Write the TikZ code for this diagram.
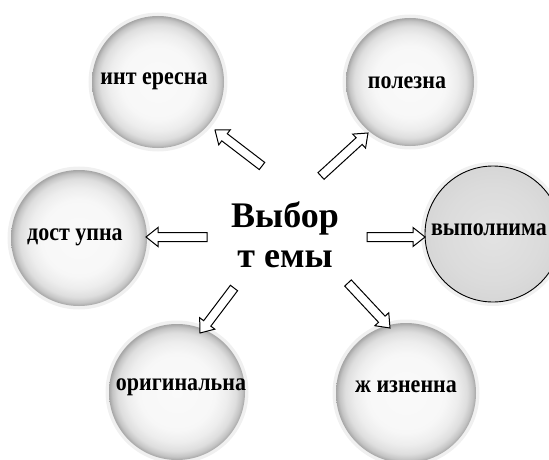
\documentclass[tikz,border=0pt]{standalone}
\usepackage{fontspec}
\setmainfont{Liberation Serif}
\newfontfamily\labfont[FakeStretch=0.88]{Liberation Serif}
\usetikzlibrary{calc}
\pgfdeclareradialshading{spherefill}{\pgfpoint{0bp}{0bp}}{color(0bp)=(white!98!black); color(14bp)=(white!97!black); color(18.5bp)=(white!93!black); color(21.8bp)=(white!87!black); color(23.8bp)=(white!77!black); color(25bp)=(white!65!black); color(50bp)=(white!65!black)}
\pgfdeclareradialshading{flatfill}{\pgfpoint{0bp}{0bp}}{color(0bp)=(white!89!black); color(18bp)=(white!86!black); color(25bp)=(white!84!black); color(50bp)=(white!84!black)}
\tikzset{
  ball/.style={circle, inner sep=0pt, minimum size=#1, shading=spherefill,
    preaction={draw=black!6, line width=7pt}},
  flatball/.style={circle, inner sep=0pt, minimum size=#1, shading=flatfill,
    draw=black, line width=0.9pt,
    preaction={draw=black!6, line width=8pt}},
  lab/.style={anchor=mid, inner sep=0pt, font=\labfont\bfseries\fontsize{25}{28}\selectfont},
  title/.style={align=center, font=\bfseries\fontsize{36}{40}\selectfont},
  arrowbox/.style={draw=black, fill=white, line width=1pt, line join=miter}
}
\newcommand\blockarr[2]{%
  \coordinate (hh) at ($(#2)!12pt!(#1)$);
  \draw[arrowbox] ($(#1)!4.5pt!90:(#2)$) -- ($(hh)!4.5pt!-90:(#1)$) -- ($(hh)!9.5pt!-90:(#1)$) -- (#2)
    -- ($(hh)!9.5pt!90:(#1)$) -- ($(hh)!4.5pt!90:(#1)$) -- ($(#1)!4.5pt!-90:(#2)$) -- cycle;}
\begin{document}
\begin{tikzpicture}[x=1pt, y=-1pt]
\useasboundingbox (0,0) rectangle (549,460);
\clip (0,0) rectangle (549,460);
\node[ball=132pt] (int) at (158,82) {};
\node[ball=128pt] (pol) at (410,82) {};
\node[ball=136pt] (dos) at (79,238) {};
\node[flatball=136pt] (vyp) at (493,234) {};
\node[ball=136pt] (ori) at (177,392) {};
\node[ball=140pt] (zhi) at (406,393) {};
\node[lab] (lint) at (154,82) {инт ересна};
\node[lab] (lpol) at (407,86) {полезна};
\node[lab] (ldos) at (75,238) {дост упна};
\node[lab] (lvyp) at (489,233) {выполнима};
\node[lab] (lori) at (181,388) {оригинальна};
\node[lab] (lzhi) at (406,390) {ж изненна};
\node[title] (c) at (285,235) {Выбор\\т емы};
\coordinate (t1) at (262,166); \coordinate (p1) at (215,130);
\coordinate (t2) at (321,176); \coordinate (p2) at (368,133);
\coordinate (t3) at (207,237); \coordinate (p3) at (146,237);
\coordinate (t4) at (367,237); \coordinate (p4) at (425,237);
\coordinate (t5) at (234,288); \coordinate (p5) at (200,333);
\coordinate (t6) at (348,283); \coordinate (p6) at (390,328);
\blockarr{t1}{p1}
\blockarr{t2}{p2}
\blockarr{t3}{p3}
\blockarr{t4}{p4}
\blockarr{t5}{p5}
\blockarr{t6}{p6}
\end{tikzpicture}
\end{document}
